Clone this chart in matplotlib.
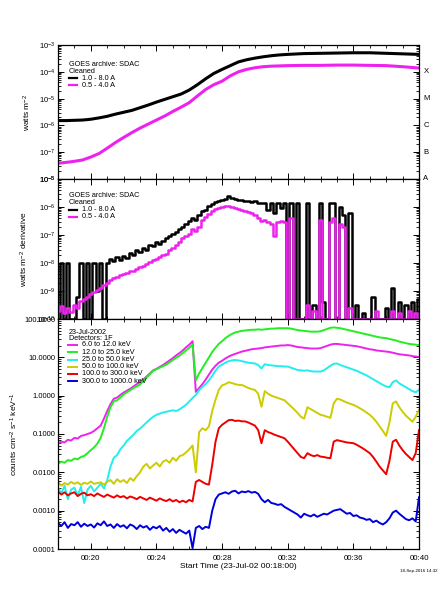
import numpy as np
import matplotlib
matplotlib.use('Agg')
import matplotlib.pyplot as plt
from matplotlib.ticker import LogLocator, FixedLocator, MultipleLocator, NullFormatter, FixedFormatter
from matplotlib.lines import Line2D

plt.rcParams['font.family'] = ['Liberation Sans', 'DejaVu Sans']
plt.rcParams['mathtext.fontset'] = 'custom'
plt.rcParams['mathtext.rm'] = 'Liberation Sans'
plt.rcParams['mathtext.it'] = 'Liberation Sans'

# ---------------- data (log10 values, time in minutes after 00:00) -------------
# Panel 1: GOES flux
goes_t_long = [18.0, 18.5, 19.0, 19.5, 20.0, 20.5, 21.0, 21.5, 22.0, 22.5, 23.0, 23.5, 24.0, 24.5,
               25.0, 25.5, 26.0, 26.5, 27.0, 27.5, 28.0, 28.5, 29.0, 29.5, 30.0, 30.5, 31.0, 31.5,
               32.0, 33.0, 34.0, 35.0, 36.0, 37.0, 38.0, 39.0, 40.0]
goes_long = [-5.82, -5.82, -5.81, -5.80, -5.77, -5.72, -5.66, -5.58, -5.51, -5.44, -5.34, -5.24,
             -5.13, -5.03, -4.93, -4.83, -4.68, -4.48, -4.26, -4.06, -3.91, -3.77, -3.63, -3.55,
             -3.49, -3.44, -3.40, -3.37, -3.35, -3.32, -3.31, -3.30, -3.29, -3.29, -3.31, -3.33, -3.35]
goes_t_short = [18.0, 18.5, 19.0, 19.5, 20.0, 20.5, 21.0, 21.5, 22.0, 22.5, 23.0, 23.5, 24.0, 24.5,
                25.0, 25.5, 26.0, 26.5, 27.0, 27.5, 28.0, 28.5, 29.0, 29.5, 30.0, 30.5, 31.0,
                32.0, 33.0, 34.0, 35.0, 36.0, 37.0, 38.0, 39.0, 40.0]
goes_short = [-7.41, -7.38, -7.34, -7.29, -7.18, -7.05, -6.85, -6.64, -6.45, -6.27, -6.10, -5.95,
              -5.80, -5.65, -5.48, -5.32, -5.15, -4.90, -4.66, -4.48, -4.35, -4.15, -4.00, -3.91,
              -3.85, -3.81, -3.79, -3.77, -3.76, -3.76, -3.75, -3.75, -3.76, -3.77, -3.81, -3.86]

# Panel 2: GOES derivative (0.2 min sampling from 18.0 to 40.0)
deriv_long = [-10.0, -8.0, -10.0, -8.0, -10.0, -10.0, -9.2, -8.0, -10.0, -8.0,
              -10.0, -8.0, -9.0, -8.0, -10.0, -8.0, -7.85, -7.92, -7.80, -7.88,
              -7.75, -7.82, -7.65, -7.70, -7.55, -7.62, -7.45, -7.52, -7.35, -7.40,
              -7.25, -7.32, -7.20, -7.12, -7.05, -6.95, -6.88, -6.78, -6.70, -6.60,
              -6.50, -6.38, -6.45, -6.30, -6.15, -6.10, -5.95, -5.88, -5.82, -5.80,
              -5.75, -5.70, -5.62, -5.68, -5.72, -5.76, -5.74, -5.78, -5.80, -5.82,
              -5.79, -5.84, -5.86, -5.85, -6.10, -5.86, -6.20, -5.86, -6.05, -5.86,
              -10.0, -5.86, -10.0, -5.86, -10.0, -10.0, -5.86, -10.0, -9.5, -10.0,
              -5.86, -9.4, -10.0, -5.86, -5.86, -10.0, -6.0, -6.3, -10.0, -6.2,
              -10.0, -9.5, -10.0, -9.8, -10.0, -10.0, -9.2, -10.0, -10.0, -10.0,
              -9.6, -10.0, -8.9, -10.0, -9.4, -10.0, -9.5, -10.0, -9.4, -10.0, -9.3]
deriv_short = [-9.70, -9.55, -9.80, -9.60, -9.75, -9.50, -9.60, -9.35, -9.30, -9.20,
               -9.12, -9.05, -8.98, -8.90, -8.78, -8.70, -8.60, -8.52, -8.50, -8.42,
               -8.38, -8.35, -8.30, -8.28, -8.20, -8.15, -8.10, -8.05, -7.95, -7.90,
               -7.85, -7.80, -7.72, -7.68, -7.55, -7.45, -7.35, -7.25, -7.12, -7.05,
               -6.95, -6.80, -6.85, -6.70, -6.45, -6.35, -6.25, -6.15, -6.08, -6.04,
               -6.00, -5.98, -5.97, -5.99, -6.02, -6.06, -6.10, -6.14, -6.18, -6.22,
               -6.30, -6.40, -6.50, -6.45, -6.55, -6.60, -7.05, -6.55, -6.50, -6.52,
               -10.0, -6.40, -10.0, -10.0, -10.0, -10.0, -9.5, -10.0, -9.7, -10.0,
               -6.45, -10.0, -10.0, -6.55, -6.40, -10.0, -6.60, -6.70, -10.0, -9.6,
               -10.0, -10.0, -10.0, -10.0, -10.0, -10.0, -10.0, -9.7, -10.0, -10.0,
               -10.0, -10.0, -9.7, -10.0, -9.8, -10.0, -10.0, -9.7, -10.0, -9.8, -10.0]

# Panel 3: RHESSI count rates (0.2 min sampling from 18.0 to 40.0)
hsi_6_12 = [-1.25, -1.20, -1.22, -1.15, -1.17, -1.10, -1.12, -1.05, -1.03, -1.00,
            -0.97, -0.92, -0.85, -0.78, -0.60, -0.40, -0.22, -0.08, -0.05, 0.02,
            0.08, 0.13, 0.18, 0.24, 0.30, 0.36, 0.42, 0.50, 0.58, 0.66,
            0.70, 0.75, 0.80, 0.86, 0.92, 0.98, 1.05, 1.11, 1.18, 1.26,
            1.33, 1.42, 0.10, 0.20, 0.30, 0.42, 0.55, 0.68, 0.78, 0.86,
            0.91, 0.97, 1.02, 1.06, 1.09, 1.12, 1.15, 1.17, 1.19, 1.21,
            1.22, 1.23, 1.24, 1.26, 1.27, 1.28, 1.29, 1.30, 1.31, 1.31,
            1.32, 1.31, 1.29, 1.27, 1.26, 1.25, 1.24, 1.23, 1.23, 1.23,
            1.24, 1.27, 1.30, 1.33, 1.35, 1.35, 1.34, 1.33, 1.32, 1.31,
            1.30, 1.29, 1.27, 1.25, 1.23, 1.21, 1.20, 1.18, 1.17, 1.16,
            1.15, 1.14, 1.12, 1.10, 1.08, 1.07, 1.06, 1.05, 1.03, 1.02, 1.01]
hsi_12_25 = [-1.78, -1.72, -1.75, -1.68, -1.70, -1.64, -1.66, -1.60, -1.57, -1.50,
             -1.42, -1.35, -1.25, -1.10, -0.85, -0.55, -0.30, -0.15, -0.12, -0.05,
             0.03, 0.09, 0.14, 0.20, 0.24, 0.29, 0.38, 0.47, 0.56, 0.65,
             0.69, 0.73, 0.77, 0.81, 0.87, 0.93, 0.99, 1.04, 1.11, 1.18,
             1.25, 1.33, 0.40, 0.58, 0.72, 0.86, 1.00, 1.14, 1.25, 1.35,
             1.42, 1.50, 1.56, 1.61, 1.65, 1.67, 1.69, 1.70, 1.71, 1.72,
             1.72, 1.73, 1.72, 1.73, 1.74, 1.75, 1.75, 1.76, 1.76, 1.76,
             1.76, 1.75, 1.73, 1.71, 1.70, 1.69, 1.68, 1.67, 1.67, 1.67,
             1.68, 1.71, 1.74, 1.77, 1.78, 1.77, 1.76, 1.74, 1.72, 1.70,
             1.68, 1.66, 1.64, 1.62, 1.60, 1.58, 1.56, 1.54, 1.52, 1.51,
             1.50, 1.48, 1.46, 1.44, 1.41, 1.39, 1.37, 1.35, 1.34, 1.33, 1.32]
hsi_25_50 = [-2.40, -2.55, -2.35, -2.70, -2.45, -2.40, -2.60, -2.38, -2.80, -2.45,
             -2.35, -2.50, -2.40, -2.30, -2.42, -2.20, -1.85, -1.62, -1.55, -1.40,
             -1.30, -1.18, -1.10, -1.02, -0.92, -0.86, -0.78, -0.70, -0.62, -0.55,
             -0.50, -0.47, -0.44, -0.42, -0.40, -0.38, -0.40, -0.36, -0.30, -0.24,
             -0.15, -0.06, 0.02, 0.14, 0.23, 0.30, 0.40, 0.52, 0.65, 0.76,
             0.81, 0.86, 0.90, 0.92, 0.93, 0.92, 0.90, 0.88, 0.86, 0.85,
             0.84, 0.80, 0.71, 0.82, 0.80, 0.79, 0.78, 0.77, 0.77, 0.76,
             0.76, 0.73, 0.70, 0.67, 0.66, 0.65, 0.66, 0.64, 0.63, 0.63,
             0.63, 0.66, 0.72, 0.78, 0.83, 0.84, 0.80, 0.77, 0.74, 0.71,
             0.68, 0.65, 0.61, 0.57, 0.53, 0.48, 0.43, 0.38, 0.33, 0.28,
             0.24, 0.22, 0.35, 0.40, 0.32, 0.27, 0.22, 0.17, 0.12, 0.09, 0.15]
hsi_50_100 = [-2.25, -2.35, -2.28, -2.32, -2.25, -2.30, -2.26, -2.33, -2.27, -2.30,
              -2.24, -2.30, -2.28, -2.26, -2.32, -2.25, -2.20, -2.30, -2.18, -2.25,
              -2.20, -2.28, -2.15, -2.22, -2.10, -2.00, -1.85, -1.78, -1.90, -1.82,
              -1.75, -1.85, -1.72, -1.68, -1.75, -1.62, -1.70, -1.58, -1.55, -1.48,
              -1.40, -1.30, -2.00, -0.95, -0.85, -0.90, -0.80, -0.40, -0.10, 0.15,
              0.27, 0.30, 0.35, 0.33, 0.30, 0.28, 0.28, 0.24, 0.20, 0.17,
              0.15, 0.05, -0.29, 0.12, 0.05, 0.00, -0.03, -0.06, -0.09, -0.12,
              -0.20, -0.28, -0.36, -0.45, -0.55, -0.60, -0.30, -0.35, -0.40, -0.45,
              -0.50, -0.52, -0.55, -0.58, -0.20, -0.08, -0.10, -0.14, -0.18, -0.21,
              -0.24, -0.28, -0.33, -0.38, -0.44, -0.50, -0.58, -0.68, -0.80, -0.92,
              -1.05, -0.70, -0.20, -0.15, -0.30, -0.42, -0.52, -0.60, -0.68, -0.55, -0.37]
hsi_100_300 = [-2.50, -2.58, -2.52, -2.60, -2.55, -2.52, -2.62, -2.56, -2.53, -2.60,
               -2.57, -2.62, -2.55, -2.60, -2.64, -2.58, -2.62, -2.66, -2.60, -2.65,
               -2.62, -2.68, -2.63, -2.66, -2.70, -2.64, -2.68, -2.72, -2.66, -2.70,
               -2.74, -2.68, -2.72, -2.75, -2.70, -2.76, -2.72, -2.78, -2.74, -2.78,
               -2.72, -2.76, -2.25, -2.20, -2.25, -2.30, -2.32, -1.80, -1.20, -0.85,
               -0.76, -0.70, -0.64, -0.63, -0.66, -0.65, -0.67, -0.67, -0.70, -0.74,
               -0.78, -0.90, -1.24, -0.90, -0.95, -0.98, -1.02, -1.05, -1.08, -1.11,
               -1.20, -1.30, -1.40, -1.50, -1.60, -1.63, -1.50, -1.55, -1.58, -1.55,
               -1.59, -1.60, -1.62, -1.63, -1.20, -1.16, -1.18, -1.20, -1.22, -1.23,
               -1.24, -1.28, -1.33, -1.38, -1.44, -1.50, -1.60, -1.72, -1.85, -1.95,
               -2.05, -1.70, -1.20, -1.15, -1.30, -1.42, -1.52, -1.60, -1.68, -1.50, -0.90]
hsi_300_1000 = [-3.32, -3.40, -3.30, -3.45, -3.35, -3.38, -3.30, -3.42, -3.34, -3.40,
                -3.36, -3.44, -3.33, -3.38, -3.28, -3.40, -3.36, -3.45, -3.35, -3.42,
                -3.38, -3.46, -3.36, -3.40, -3.48, -3.38, -3.44, -3.40, -3.50, -3.42,
                -3.46, -3.40, -3.52, -3.45, -3.55, -3.48, -3.58, -3.50, -3.55, -3.60,
                -3.52, -3.98, -3.45, -3.40, -3.48, -3.42, -3.45, -3.00, -2.70, -2.58,
                -2.55, -2.52, -2.56, -2.50, -2.48, -2.55, -2.50, -2.52, -2.49, -2.53,
                -2.51, -2.56, -2.70, -2.78, -2.72, -2.80, -2.82, -2.85, -2.83, -2.90,
                -2.95, -3.00, -3.05, -3.10, -3.18, -3.08, -3.12, -3.15, -3.10, -3.16,
                -3.12, -3.08, -3.10, -3.05, -3.00, -2.98, -2.96, -3.02, -3.08, -3.06,
                -3.14, -3.12, -3.18, -3.20, -3.24, -3.22, -3.30, -3.26, -3.32, -3.36,
                -3.30, -3.20, -3.05, -3.00, -3.08, -3.15, -3.22, -3.25, -3.20, -3.28, -2.65]

hsi_labels = ['6.0 to 12.0 keV', '12.0 to 25.0 keV', '25.0 to 50.0 keV',
              '50.0 to 100.0 keV', '100.0 to 300.0 keV', '300.0 to 1000.0 keV']
hsi_colors = ['#ee22ee', '#22ee22', '#22eeee', '#cccc00', '#ee0000', '#0000dd']
goes_labels = ['1.0 - 8.0 A', '0.5 - 4.0 A']
goes_colors = ['#000000', '#ee22ee']
time_ticks = [20, 24, 28, 32, 36, 40]
time_labels = ['00:20', '00:24', '00:28', '00:32', '00:36', '00:40']
class_labels = ['A', 'B', 'C', 'M', 'X']
class_levels = [1e-8, 1e-7, 1e-6, 1e-5, 1e-4]
p3_ticks = [1e-4, 1e-3, 1e-2, 1e-1, 1, 10, 100]
p3_ticklabels = ['0.0001', '0.0010', '0.0100', '0.1000', '1.0000', '10.0000', '100.0000']

# ---------------- figure ----------------
fig = plt.figure(figsize=(4.42, 6.0), dpi=100)
L, W = 58 / 442, 361 / 442
ax1 = fig.add_axes([L, 1 - 179 / 600, W, 134 / 600])
ax2 = fig.add_axes([L, 1 - 319 / 600, W, 140 / 600])
ax3 = fig.add_axes([L, 1 - 549 / 600, W, 230 / 600])

fs_tick = 5.5
for ax in (ax1, ax2, ax3):
    ax.set_yscale('log')
    ax.set_xlim(18, 40)
    ax.xaxis.set_major_locator(FixedLocator(time_ticks))
    ax.xaxis.set_minor_locator(MultipleLocator(1))
    ax.yaxis.set_minor_locator(LogLocator(base=10, subs=np.arange(2, 10), numticks=20))
    ax.yaxis.set_minor_formatter(NullFormatter())
    ax.tick_params(which='both', direction='in', top=True, right=True, labelsize=fs_tick, pad=2)
    ax.tick_params(which='major', length=4.5, width=0.7)
    ax.tick_params(which='minor', length=2.2, width=0.6)
    for s in ax.spines.values():
        s.set_linewidth(0.9)

# Panel 1
ax1.plot(goes_t_long, 10 ** np.array(goes_long), color=goes_colors[0], lw=2.2)
ax1.plot(goes_t_short, 10 ** np.array(goes_short), color=goes_colors[1], lw=2.2)
ax1.set_ylim(1e-8, 1e-3)
ax1.yaxis.set_major_locator(FixedLocator([1e-8, 1e-7, 1e-6, 1e-5, 1e-4, 1e-3]))
ax1.yaxis.set_major_formatter(FixedFormatter([r'$10^{-%d}$' % k for k in (8, 7, 6, 5, 4, 3)]))
ax1.set_xticklabels([])
ax1.set_ylabel(r'watts m$^{-2}$', fontsize=6, labelpad=4)
ytr = ax1.get_yaxis_transform()
for lab, lev in zip(class_labels, class_levels):
    ax1.text(1.012, lev, lab, transform=ytr, fontsize=5.5, va='center', ha='left')

# Panel 2
t2 = np.linspace(18, 40, len(deriv_long))
ax2.plot(t2, 10 ** np.array(deriv_long), color=goes_colors[0], lw=1.8, drawstyle='steps-mid')
t2b = np.linspace(18, 40, len(deriv_short))
ax2.plot(t2b, 10 ** np.array(deriv_short), color=goes_colors[1], lw=1.8, drawstyle='steps-mid')
ax2.set_ylim(1e-10, 1e-5)
ax2.yaxis.set_major_locator(FixedLocator([1e-10, 1e-9, 1e-8, 1e-7, 1e-6, 1e-5]))
ax2.yaxis.set_major_formatter(FixedFormatter([r'$10^{-%d}$' % k for k in (10, 9, 8, 7, 6, 5)]))
ax2.set_xticklabels([])
ax2.set_ylabel(r'watts m$^{-2}$ derivative', fontsize=6, labelpad=4)

# GOES legends
fs_leg = 5.2
for ax, ys in ((ax1, [0.856, 0.804, 0.751, 0.701]), (ax2, [0.879, 0.831, 0.779, 0.729])):
    ax.text(0.030, ys[0], 'GOES archive: SDAC', transform=ax.transAxes, fontsize=fs_leg, va='center')
    ax.text(0.030, ys[1], 'Cleaned', transform=ax.transAxes, fontsize=fs_leg, va='center')
    for lab, col, y in zip(goes_labels, goes_colors, ys[2:]):
        ax.add_line(Line2D([0.030, 0.054], [y, y], transform=ax.transAxes, color=col, lw=1.6))
        ax.text(0.066, y, lab, transform=ax.transAxes, fontsize=fs_leg, va='center')

# Panel 3
series = [hsi_6_12, hsi_12_25, hsi_25_50, hsi_50_100, hsi_100_300, hsi_300_1000]
for vals, col in zip(series, hsi_colors):
    t3 = np.linspace(18, 40, len(vals))
    ax3.plot(t3, 10 ** np.array(vals), color=col, lw=1.4)
ax3.set_ylim(1e-4, 100)
ax3.yaxis.set_major_locator(FixedLocator(p3_ticks))
ax3.yaxis.set_major_formatter(FixedFormatter(p3_ticklabels))
ax3.set_xticklabels(time_labels)
ax3.tick_params(axis='x', labelsize=5.7, pad=4)
ax3.set_ylabel(r'counts cm$^{-2}$ s$^{-1}$ keV$^{-1}$', fontsize=6, labelpad=3)
ax3.set_xlabel('Start Time (23-Jul-02 00:18:00)', fontsize=6, labelpad=1)

ys3 = [0.940, 0.914, 0.888, 0.855, 0.823, 0.792, 0.761, 0.729]
ax3.text(0.030, ys3[0], '23-Jul-2002', transform=ax3.transAxes, fontsize=fs_leg, va='center')
ax3.text(0.030, ys3[1], 'Detectors: 1F', transform=ax3.transAxes, fontsize=fs_leg, va='center')
for lab, col, y in zip(hsi_labels, hsi_colors, ys3[2:]):
    ax3.add_line(Line2D([0.028, 0.053], [y, y], transform=ax3.transAxes, color=col, lw=1.4))
    ax3.text(0.066, y, lab, transform=ax3.transAxes, fontsize=fs_leg, va='center')

fig.text(438 / 442, 1 - 571 / 600, '18-Sep-2016 14:32', fontsize=3.2, ha='right', va='center')

fig.savefig('out.png', dpi=100, facecolor='white')
